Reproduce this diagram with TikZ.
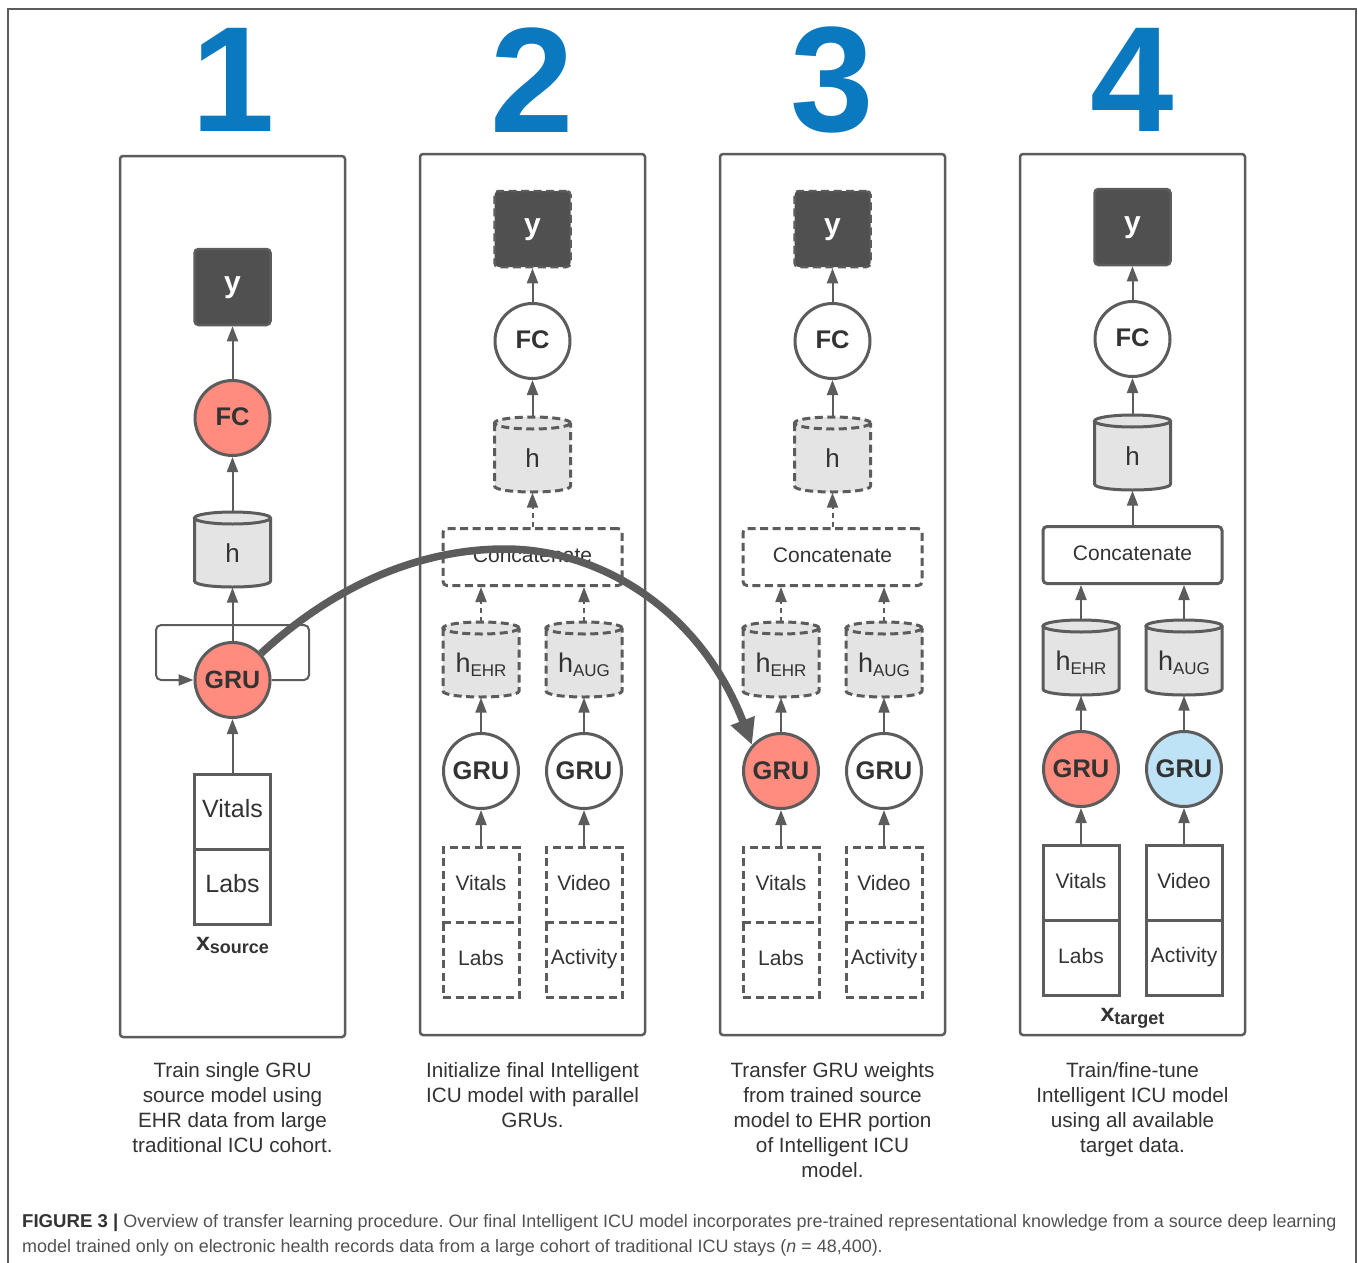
\documentclass[tikz,border=0pt]{standalone}
\usepackage{fontspec}
\setmainfont{Liberation Sans}
\usetikzlibrary{arrows.meta}
\definecolor{ln}{HTML}{5C5C5C}
\definecolor{cylf}{HTML}{E4E4E4}
\definecolor{boxf}{HTML}{505050}
\definecolor{redf}{HTML}{FF8C7F}
\definecolor{bluef}{HTML}{BEE3F6}
\definecolor{digit}{HTML}{0A79BF}
\definecolor{txt}{HTML}{333333}
\newcommand\fs[1]{\fontsize{#1}{#1}\selectfont}
\newcommand\shiftup[2]{\raisebox{#1}[\height][\depth]{#2}}
\tikzset{
 x=1pt,y=-1pt,
 panel/.style={draw=ln,line width=2.5pt,rounded corners=3pt,minimum width=225pt,minimum height=881pt,inner sep=0pt},
 dsh/.style={dash pattern=on 8pt off 4.5pt,line cap=butt},
 sld/.style={},
 dshc/.style={dash pattern=on 5pt off 4pt},
 sldc/.style={},
 ybox/.style={fill=boxf,draw=ln,line width=2.5pt,rounded corners=4pt,minimum width=76pt,minimum height=76pt,inner sep=0pt,text=white,font=\bfseries\fs{30}},
 circ/.style={circle,draw=ln,line width=3pt,minimum size=75pt,inner sep=0pt,text=txt,font=\bfseries\fs{25.5}},
 fcn/.style={font=\bfseries\fs{25.5}},
 cylt/.style={minimum width=76pt,minimum height=75pt,inner sep=0pt,text=txt,font=\fs{26}},
 databox/.style={draw=ln,line width=3pt,minimum width=76pt,minimum height=75pt,inner sep=0pt,outer sep=0pt,text=txt},
 databot/.style={minimum width=76pt,minimum height=75pt,inner sep=0pt,outer sep=0pt,text=txt},
 boxedge/.style={draw=ln,line width=3pt,line cap=rect},
 concat/.style={draw=ln,line width=3pt,rounded corners=4pt,minimum width=179pt,minimum height=57pt,inner sep=0pt,text=txt,font=\fs{21}},
 arr/.style={draw=ln,line width=2pt,-{Triangle[length=15pt,width=11pt]}},
 digitn/.style={text=digit,font=\bfseries\fs{150},inner sep=0pt},
 captext/.style={align=center,text=txt,font=\fontsize{20.7}{25}\selectfont,inner sep=0pt,anchor=north},
}
% name, x, y, style, label
\newcommand\cyl[5]{%
 \fill[cylf] ({#2-38},{#3-32}) -- ({#2-38},{#3+31}) .. controls ({#2-38},{#3+39}) and ({#2+38},{#3+39}) .. ({#2+38},{#3+31}) -- ({#2+38},{#3-32}) .. controls ({#2+38},{#3-40}) and ({#2-38},{#3-40}) .. ({#2-38},{#3-32}) -- cycle;
 \draw[draw=ln,line width=3pt,#4] ({#2-38},{#3-32}) -- ({#2-38},{#3+31}) .. controls ({#2-38},{#3+39}) and ({#2+38},{#3+39}) .. ({#2+38},{#3+31}) -- ({#2+38},{#3-32});
 \draw[draw=ln,line width=3pt,#4] ({#2},{#3-32}) ellipse [x radius=38,y radius=6];
 \node[cylt] (#1) at ({#2},{#3}) {\shiftup{-3pt}{#5}};
}
\newcommand\subh[2]{\shiftup{-2pt}{\fs{27}#1\raisebox{-4pt}{\fs{17}#2}}}
% prefix, cx, dy, style, left gru fill, right gru fill
\newcommand\panelB[6]{%
 \node[panel] (#1panel) at (#2,594.5) {};
 \node[ybox,#4] (#1y) at (#2,{229+#3}) {\shiftup{-1pt}{y}};
 \node[circ,fcn] (#1fc) at (#2,{341+#3}) {\raisebox{2pt}{FC}};
 \cyl{#1h}{#2}{(455+#3)}{#4}{h}
 \node[concat,#4] (#1con) at (#2,{557+#3}) {\raisebox{3pt}{Concatenate}};
 \cyl{#1he}{(#2-51.5)}{(660+#3)}{#4}{\subh{h}{EHR}}
 \cyl{#1ha}{(#2+51.5)}{(660+#3)}{#4}{\subh{h}{AUG}}
 \node[circ,fill=#5] (#1ge) at ({#2-51.5},{771+#3}) {GRU};
 \node[circ,fill=#6] (#1ga) at ({#2+51.5},{771+#3}) {GRU};
 \node[databox,#4,font=\fs{21}] (#1vi) at ({#2-51.5},{885+#3}) {\shiftup{2.5pt}{Vitals}};
 \node[databot,font=\fs{21}] (#1la) at ({#2-51.5},{960+#3}) {\shiftup{2.5pt}{Labs}};
 \node[databox,#4,font=\fs{21}] (#1vd) at ({#2+51.5},{885+#3}) {\shiftup{2.5pt}{Video}};
 \node[databot,font=\fs{21}] (#1ac) at ({#2+51.5},{960+#3}) {\shiftup{1pt}{Activity}};
 \draw[boxedge,#4] (#1la.north west) -- (#1la.south west) -- (#1la.south east) -- (#1la.north east);
 \draw[boxedge,#4] (#1ac.north west) -- (#1ac.south west) -- (#1ac.south east) -- (#1ac.north east);
 \draw[arr] (#1fc) -- (#1y);
 \draw[arr] (#1h) -- (#1fc);
 \draw[arr,#4c] (#1con) -- (#1h);
 \draw[arr,#4c] (#1he.north) -- (#1he.north |- #1con.south);
 \draw[arr,#4c] (#1ha.north) -- (#1ha.north |- #1con.south);
 \draw[arr] (#1ge) -- (#1he);
 \draw[arr] (#1ga) -- (#1ha);
 \draw[arr] (#1vi) -- (#1ge);
 \draw[arr] (#1vd) -- (#1ga);
}
\begin{document}
\begin{tikzpicture}
\useasboundingbox (0,0) rectangle (1358,1263);
\fill[white] (0,0) rectangle (1358,1263);
\coordinate (fbl) at (8,1263);
\coordinate (ftl) at (8,9);
\coordinate (ftr) at (1356,9);
\coordinate (fbr) at (1356,1263);
\draw[ln,line width=1.5pt] (fbl) -- (ftl) -- (ftr) -- (fbr);

\node[digitn] (d1) at (233,80) {1};
\node[digitn] (d2) at (532.5,80) {2};
\node[digitn] (d3) at (832.5,80) {3};
\node[digitn] (d4) at (1132.5,80) {4};

% panel 1
\node[panel] (apanel) at (232.5,596.5) {};
\node[ybox] (ay) at (232.5,287) {\shiftup{-1pt}{y}};
\node[circ,fcn,fill=redf] (afc) at (232.5,418) {\raisebox{2pt}{FC}};
\cyl{ah}{232.5}{550}{sld}{h}
\node[circ,fill=redf,font=\bfseries\fs{25}] (ag) at (232.5,680) {\raisebox{1pt}{GRU}};
\node[databox,font=\fs{25}] (avi) at (232.5,811.5) {\shiftup{2.5pt}{Vitals}};
\node[databot,font=\fs{25}] (ala) at (232.5,886.5) {\shiftup{2.5pt}{Labs}};
\draw[boxedge] (ala.north west) -- (ala.south west) -- (ala.south east) -- (ala.north east);
\node[text=txt,inner sep=0pt] (axs) at (232.5,945) {\bfseries\fs{25}x\raisebox{-3pt}{\fs{18}source}};
\draw[arr] (afc) -- (ay);
\draw[arr] (ah) -- (afc);
\draw[arr] (ag) -- (ah);
\draw[arr] (avi) -- (ag);
\coordinate (l1) at (309,680);
\coordinate (l2) at (309,625);
\coordinate (l3) at (156,625);
\coordinate (l4) at (156,680);
\draw[arr,rounded corners=5pt] (ag.east) -- (l1) -- (l2) -- (l3) -- (l4) -- (ag.west);

% panels 2-4
\panelB{b}{532.5}{0}{dsh}{white}{white}
\panelB{c}{832.5}{0}{dsh}{redf}{white}
\panelB{e}{1132.5}{-2}{sld}{redf}{bluef}
\node[text=txt,inner sep=0pt] (ext) at (1132.5,1018) {\bfseries\fs{25}x\raisebox{-3pt}{\fs{18}target}};

% transfer arrow
\coordinate (top) at (505,549);
\draw[ln,line width=7.5pt,-{Triangle[length=26pt,width=24pt]}] (ag.43) .. controls (335,585) and (420,549) .. (top) .. controls (600,549) and (700,610) .. (cge.138);

% captions
\node[captext] (c1) at (232.5,1062) {Train single GRU\\source model using\\EHR data from large\\traditional ICU cohort.};
\node[captext] (c2) at (532.5,1062) {Initialize final Intelligent\\ICU model with parallel\\GRUs.};
\node[captext] (c3) at (832.5,1062) {Transfer GRU weights\\from trained source\\model to EHR portion\\of Intelligent ICU\\model.};
\node[captext] (c4) at (1132.5,1062) {Train/fine-tune\\Intelligent ICU model\\using all available\\target data.};
\node[anchor=north west,inner sep=0pt,align=left,text=txt!85!white,font=\fontsize{17.95}{25}\selectfont\frenchspacing] (fig) at (22,1214) {{\fontsize{18.6}{25}\selectfont\textbf{\textcolor{txt}{FIGURE 3 |}}} Overview of transfer learning procedure. Our final Intelligent ICU model incorporates pre-trained representational knowledge from a source deep learning\\model trained only on electronic health records data from a large cohort of traditional ICU stays (\textit{n} = 48,400).};
\end{tikzpicture}
\end{document}
